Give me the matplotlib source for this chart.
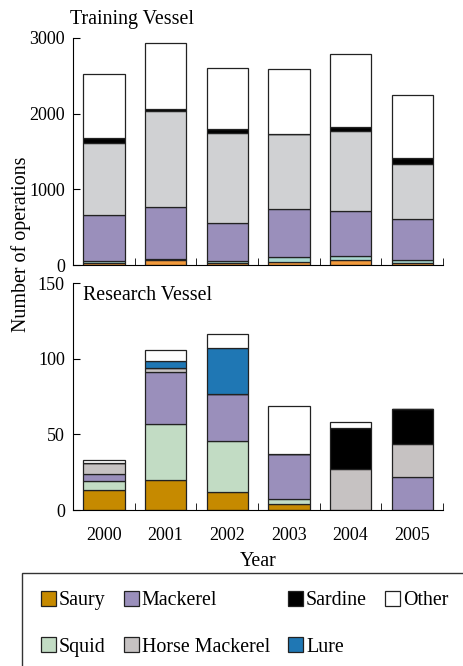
import numpy as np
import matplotlib
matplotlib.use("Agg")
import matplotlib.pyplot as plt
from matplotlib.patches import Rectangle

plt.rcParams['font.family'] = ['Liberation Serif', 'DejaVu Serif']
plt.rcParams['font.size'] = 14.4

years = ['2000', '2001', '2002', '2003', '2004', '2005']
species = ['Saury', 'Squid', 'Mackerel', 'Horse Mackerel', 'Sardine', 'Lure', 'Other']

# training vessel (number of operations)
train_saury = [25, 65, 25, 35, 65, 30]
train_squid = [25, 20, 25, 75, 60, 40]
train_mackerel = [610, 680, 510, 630, 595, 540]
train_horse = [950, 1265, 1190, 990, 1045, 730]
train_sardine = [65, 30, 45, 0, 55, 75]
train_lure = [0, 5, 8, 0, 0, 0]
train_other = [845, 875, 800, 860, 965, 835]

# research vessel
res_saury = [13, 20, 12, 4, 0, 0]
res_squid = [6.5, 37, 34, 3.5, 0, 0]
res_mackerel = [4.5, 34, 31, 29.5, 0, 22]
res_horse = [7, 3, 0, 0, 27.5, 22]
res_sardine = [0, 0, 0, 0, 27, 22.5]
res_lure = [0, 4.5, 30, 0, 0, 0]
res_other = [2, 7.5, 9.5, 32, 4, 0]

train_colors = ['#f29a3c', '#a9d9d1', '#9a8fbb', '#d0d1d3', '#000000', '#1f77b4', '#ffffff']
res_colors = ['#c68a00', '#c2dcc4', '#9a8fbb', '#c6c2c2', '#000000', '#1f77b4', '#ffffff']

train = [train_saury, train_squid, train_mackerel, train_horse, train_sardine, train_lure, train_other]
res = [res_saury, res_squid, res_mackerel, res_horse, res_sardine, res_lure, res_other]

fig = plt.figure(figsize=(4.63, 6.66), dpi=100)
ax1 = fig.add_axes([0.158, 0.602, 0.799, 0.341])
ax2 = fig.add_axes([0.158, 0.234, 0.799, 0.341])

x = np.arange(len(years))


def stack(ax, data, colors):
    bottom = np.zeros(len(years))
    handles = []
    for vals, c, name in zip(data, colors, species):
        h = ax.bar(x, vals, 0.67, bottom=bottom, color=c, edgecolor='#222222',
                   linewidth=0.9, label=name)
        handles.append(h)
        bottom += np.array(vals)
    ax.set_xlim(-0.5, len(years) - 0.5)
    ax.spines['top'].set_visible(False)
    ax.spines['right'].set_visible(False)
    ax.set_xticks(x)
    ax.set_xticks(np.arange(len(years)) + 0.5, minor=True)
    ax.tick_params(axis='x', which='major', length=0, labelsize=13)
    ax.tick_params(axis='x', which='minor', direction='in', length=5)
    ax.tick_params(axis='y', direction='in', length=5, pad=6, labelsize=13)
    return handles


stack(ax1, train, train_colors)
ax1.set_ylim(0, 3000)
ax1.set_yticks([0, 1000, 2000, 3000])
ax1.set_xticklabels([])
ax1.text(-0.008, 1.08, 'Training Vessel', transform=ax1.transAxes, va='center', ha='left')

handles = stack(ax2, res, res_colors)
ax2.set_ylim(0, 150)
ax2.set_yticks([0, 50, 100, 150])
ax2.set_xticklabels(years)
ax2.tick_params(axis='x', pad=12)
ax2.set_xlabel('Year', labelpad=6)
ax2.text(0.027, 0.946, 'Research Vessel', transform=ax2.transAxes, va='center', ha='left')

fig.text(0.045, 1 - 244 / 666, 'Number of operations', rotation=90, va='center', ha='center')

# legend box runs off the figure edge
fig.patches.append(Rectangle((22 / 463, -0.1), 1.0, 0.1 + 1 - 573 / 666,
                             transform=fig.transFigure, fill=False,
                             edgecolor='#333333', linewidth=1.0))
fig.legend(handles, species, ncol=4, loc='upper left', frameon=False,
           bbox_to_anchor=(41 / 463, 1 - 591 / 666), borderpad=0, borderaxespad=0,
           handlelength=0.75, handleheight=0.75, handletextpad=0.15,
           columnspacing=0.9, labelspacing=1.35)

fig.savefig('out.png', dpi=100)
